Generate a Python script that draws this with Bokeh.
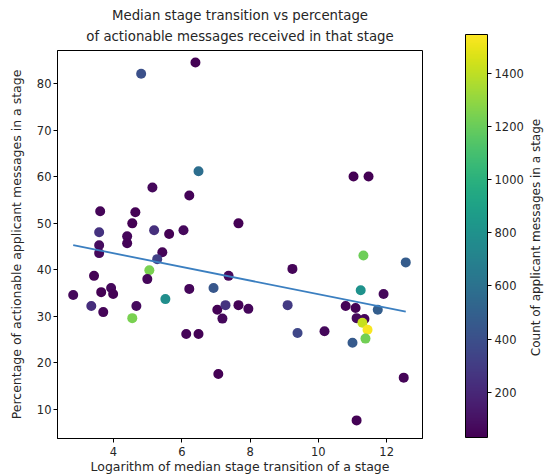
import numpy as np
from bokeh.plotting import figure
from bokeh.layouts import row
from bokeh.models import (LinearColorMapper, ColorBar, FixedTicker, Label, Title,
                          Range1d, ColumnDataSource)
from bokeh.palettes import Viridis256
from bokeh.embed import file_html
from bokeh.resources import INLINE

# ---- data ----
log_transition = [6.40, 4.81, 6.49, 11.03, 11.47, 7.66, 5.14, 6.22, 3.61, 4.64,
                  4.55, 3.58, 4.40, 5.19, 5.63, 6.05, 3.58, 4.40, 3.58, 5.43,
                  5.28, 5.05, 3.43, 4.99, 7.37, 2.82, 3.64, 3.93, 3.99, 3.35,
                  3.70, 4.67, 4.55, 5.52, 6.22, 6.93, 7.04, 7.19, 7.28, 7.66,
                  6.13, 6.49, 7.07, 7.95, 9.24, 9.10, 9.39, 10.18, 11.32, 12.56,
                  11.24, 11.91, 10.80, 11.09, 11.74, 11.12, 11.35, 11.29, 11.44, 11.38,
                  11.00, 12.50, 11.12]
pct_actionable = [84.6, 82.2, 61.2, 60.1, 60.1, 50.0, 57.7, 56.0, 52.6, 52.4,
                  50.0, 48.1, 47.2, 48.5, 47.7, 48.5, 45.3, 45.7, 43.6, 43.8,
                  42.3, 39.9, 38.7, 38.0, 38.7, 34.6, 35.2, 36.1, 34.8, 32.2,
                  30.9, 32.2, 29.6, 33.7, 35.9, 36.1, 31.4, 29.5, 32.4, 32.4,
                  26.2, 26.2, 17.6, 31.6, 40.2, 32.4, 26.4, 26.8, 43.1, 41.6,
                  35.6, 34.8, 32.2, 31.8, 31.4, 29.6, 29.4, 28.6, 27.1, 25.2,
                  24.3, 16.8, 7.6]
msg_count = [40, 400, 580, 30, 25, 35, 60, 45, 50, 40,
             30, 250, 55, 240, 35, 70, 80, 45, 60, 50,
             320, 1240, 40, 55, 70, 65, 35, 60, 40, 230,
             50, 75, 1240, 780, 55, 440, 40, 60, 260, 45,
             50, 40, 30, 55, 50, 290, 350, 65, 1210, 470,
             800, 60, 45, 40, 480, 70, 55, 1420, 1530, 1220,
             460, 50, 40]
trend_x = [2.82, 12.56]
trend_y = [45.3, 31.0]
x_ticks = [4, 6, 8, 10, 12]
y_ticks = [10, 20, 30, 40, 50, 60, 70, 80]
cbar_ticks = [200, 400, 600, 800, 1000, 1200, 1400]
count_low, count_high = 30, 1545

FONT = "DejaVu Sans"
TXT = "#262626"
H = 476
FRAME_BOTTOM = 439  # expected pixel row of the main frame's bottom edge

src = ColumnDataSource(dict(x=log_transition, y=pct_actionable, c=msg_count))
mapper = LinearColorMapper(palette=Viridis256, low=count_low, high=count_high)

p = figure(width=438, height=H, output_backend="svg", toolbar_location=None,
           x_range=Range1d(2.36, 13.05), y_range=Range1d(3.7, 87.2),
           min_border_left=57, min_border_right=16, min_border_top=50,
           min_border_bottom=H - FRAME_BOTTOM, background_fill_color="white",
           border_fill_color="white")

title_kw = dict(align="center", text_font=FONT, text_font_size="13.3px",
                text_font_style="normal", text_color=TXT, offset=-15)
p.add_layout(Title(text="of actionable messages received in that stage",
                   standoff=13, **title_kw), "above")
p.add_layout(Title(text="Median stage transition vs percentage",
                   standoff=-4, **title_kw), "above")

p.scatter("x", "y", source=src, size=10, line_color=None,
          fill_color={"field": "c", "transform": mapper})
p.line(trend_x, trend_y, line_color="#3b7fc0", line_width=1.8)

p.xgrid.visible = False
p.ygrid.visible = False
p.outline_line_color = "black"
p.outline_line_width = 1
p.outline_line_alpha = 1

for ax in (p.xaxis[0], p.yaxis[0]):
    ax.axis_line_color = "black"
    ax.major_tick_line_color = "black"
    ax.major_tick_out = 4
    ax.major_tick_in = 0
    ax.minor_tick_line_color = None
    ax.major_label_text_font = FONT
    ax.major_label_text_font_size = "11.5px"
    ax.major_label_text_color = TXT
    ax.axis_label_text_font = FONT
    ax.axis_label_text_font_size = "12.5px"
    ax.axis_label_text_font_style = "normal"
    ax.axis_label_text_color = TXT

p.xaxis.major_label_standoff = 4
p.xaxis.axis_label_standoff = 0
p.yaxis.major_label_standoff = 2
p.yaxis.axis_label_standoff = 10

p.xaxis.ticker = FixedTicker(ticks=x_ticks)
p.yaxis.ticker = FixedTicker(ticks=y_ticks)
p.xaxis.axis_label = "Logarithm of median stage transition of a stage"
p.yaxis.axis_label = "Percentage of actionable applicant messages in a stage"

# companion panel: colour bar and its label (label reads bottom to top)
p2 = figure(width=113, height=H, output_backend="svg", toolbar_location=None,
            x_axis_type=None, y_axis_type=None, x_range=Range1d(0, 1),
            y_range=Range1d(0, 1), min_border=0, outline_line_color=None,
            background_fill_color="white", border_fill_color="white")
p2.xgrid.visible = False
p2.ygrid.visible = False

cbar = ColorBar(color_mapper=mapper, ticker=FixedTicker(ticks=cbar_ticks),
                width=22, height=403, bar_line_color="black", bar_line_width=1,
                major_tick_out=4, major_tick_in=0, major_tick_line_color="black",
                minor_tick_line_color=None,
                major_label_text_font=FONT, major_label_text_font_size="11.5px",
                major_label_text_color=TXT, label_standoff=3,
                padding=0, margin=0, location=(27, FRAME_BOTTOM - 438),
                background_fill_color=None, border_line_color=None)
p2.add_layout(cbar, "center")

p2.add_layout(Label(x=97, y=FRAME_BOTTOM - 238, x_units="screen", y_units="screen",
                    text="Count of applicant messages in a stage", angle=np.pi / 2,
                    text_align="center", text_baseline="middle",
                    text_font=FONT, text_font_size="12px", text_color=TXT))

layout = row(p, p2)
open("out.html", "w").write(file_html(layout, INLINE))
